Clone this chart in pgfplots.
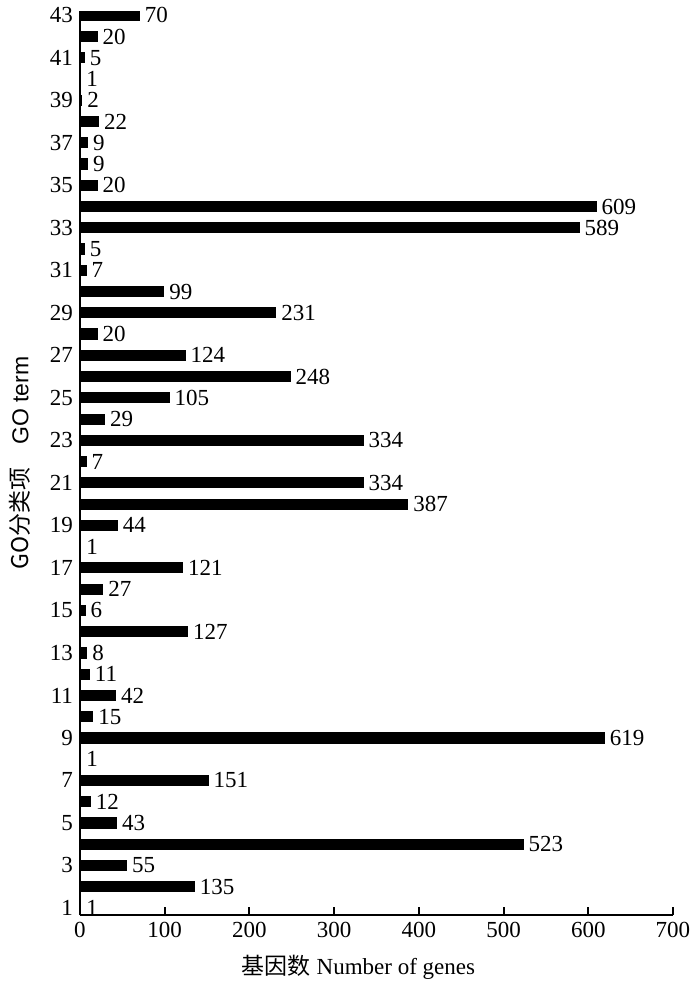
\documentclass[border=0pt]{standalone}
\usepackage{fontspec}
\setmainfont{Liberation Serif}
\setsansfont{Liberation Sans}
\newfontfamily\cjk{Noto Sans CJK SC}
\usepackage{pgfplots}
\pgfplotsset{compat=1.18}

\begin{document}
\begin{tikzpicture}[font=\fontsize{11.5}{13}\selectfont]
  \begin{axis}[
      scale only axis,
      width=296.5pt, height=452pt,
      xbar, bar width=5pt,
      xmin=0, xmax=700,
      ymin=0.67, ymax=43.2,
      xtick={0,100,...,700},
      ytick={1,3,...,43},
      axis x line*=bottom,
      axis y line*=left,
      axis line style={line width=1pt},
      tick align=inside,
      major tick length=4pt,
      xtick style={line width=1pt, black},
      ytick style={draw=none},
      /pgf/number format/assume math mode=true,
      xlabel={{\cjk 基因数} Number of genes},
      xlabel style={xshift=-9pt, yshift=-2pt},
      ylabel={\sffamily{\cjk GO分类项}\quad GO term},
      ylabel style={yshift=3pt},
      nodes near coords,
      point meta=x,
      nodes near coords style={anchor=west, inner sep=2.5pt, font=\fontsize{11.5}{13}\selectfont},
      every node near coord/.append style={/pgf/number format/assume math mode=true},
    ]
    \addplot[fill=black, draw=black, line width=0.6pt] coordinates {
      (1,1) (135,2) (55,3) (523,4) (43,5) (12,6) (151,7) (1,8) (619,9) (15,10)
      (42,11) (11,12) (8,13) (127,14) (6,15) (27,16) (121,17) (1,18) (44,19) (387,20)
      (334,21) (7,22) (334,23) (29,24) (105,25) (248,26) (124,27) (20,28) (231,29) (99,30)
      (7,31) (5,32) (589,33) (609,34) (20,35) (9,36) (9,37) (22,38) (2,39) (1,40)
      (5,41) (20,42) (70,43)
    };
  \end{axis}
  \path (current axis.south west) ++(-40pt,-36pt) rectangle ++(350pt,493.5pt);
\end{tikzpicture}
\end{document}
